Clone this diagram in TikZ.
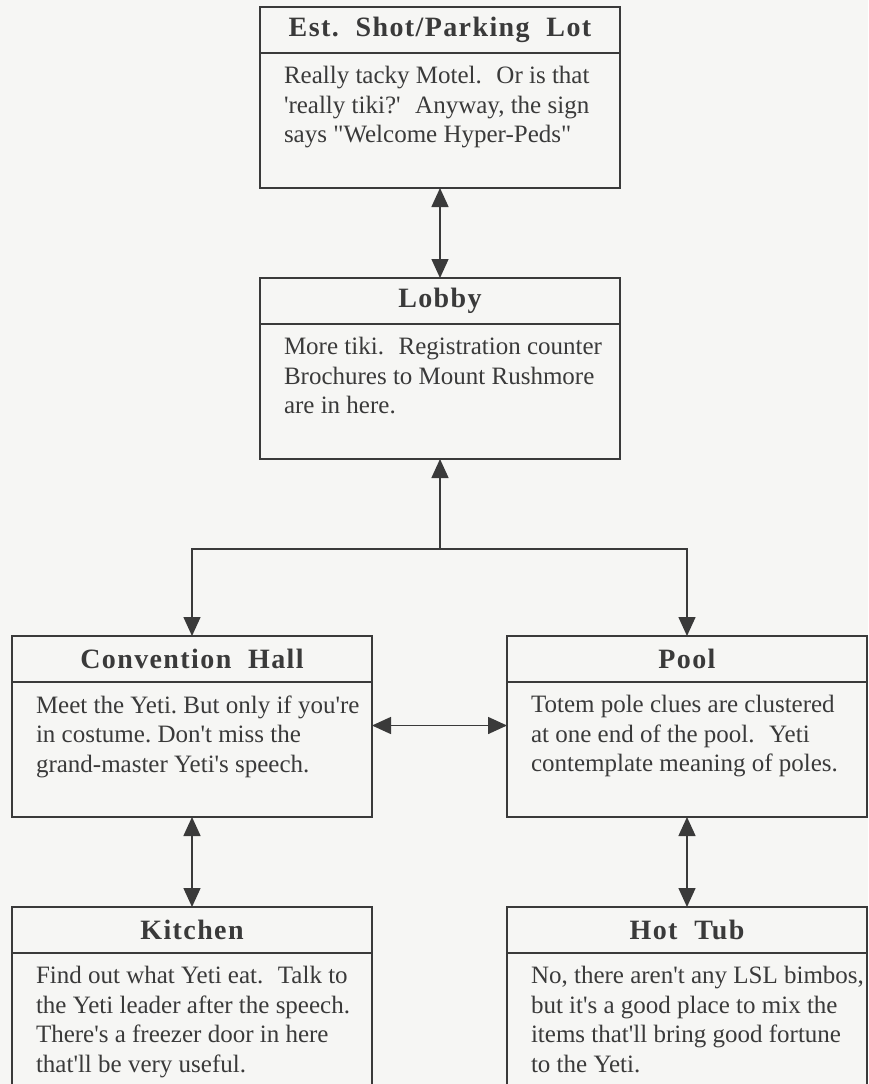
\documentclass[tikz,border=0pt]{standalone}
\usepackage{fontspec}
\setmainfont{Liberation Serif}[Ligatures=TeXOff]
\usetikzlibrary{arrows.meta, positioning}

\definecolor{paper}{RGB}{246,246,244}
\definecolor{ink}{RGB}{58,58,58}

\tikzstyle{roomtitle} = [rectangle, minimum width=360pt, minimum height=46pt, inner sep=0pt, outer sep=0pt, line width=2pt, draw=ink, text=ink, font=\fontsize{28}{32}\selectfont\bfseries\addfontfeature{LetterSpace=5}]
\tikzstyle{roombody} = [rectangle, minimum width=360pt, minimum height=135pt, inner xsep=24pt, inner ysep=0pt, outer sep=0pt, line width=2pt, draw=ink, text=ink, font=\fontsize{25}{29.5}\selectfont]
\tikzstyle{arrow} = [line width=1.5pt, draw=ink, -{Triangle[length=19pt, width=17pt]}]
\tikzstyle{dblarrow} = [line width=1.5pt, draw=ink, {Triangle[length=19pt, width=17pt]}-{Triangle[length=19pt, width=17pt]}]

% body text sits at the top of the box
\newcommand{\roomtext}[1]{\begin{minipage}[c][108pt][t]{312pt}\rightskip=-24pt plus 1fil\relax #1\end{minipage}}

\begin{document}
\begin{tikzpicture}[node distance=90pt]

    \useasboundingbox (0,0) rectangle (868pt,-1084pt);
    \fill [paper] (0,0) rectangle (868pt,-1084pt);
    \clip (0,0) rectangle (868pt,-1084pt);

    \node (est) [roomtitle] at (440pt,-30pt) {Est.~~Shot/Parking~~Lot};
    \node (estbody) [roombody, below=0pt of est] {\roomtext{Really tacky Motel.~ Or is that\\'really tiki?'~ Anyway, the sign\\says "Welcome Hyper-Peds"}};

    \node (lobby) [roomtitle, below=of estbody] {Lobby};
    \node (lobbybody) [roombody, below=0pt of lobby] {\roomtext{More tiki.~ Registration counter\\Brochures to Mount Rushmore\\are in here.}};

    \coordinate (hub) at ([yshift=-90pt]lobbybody.south);

    \node (hall) [roomtitle, below=177pt of lobbybody, xshift=-248pt] {Convention~~Hall};
    \node (hallbody) [roombody, below=0pt of hall] {\roomtext{Meet the Yeti.\ But only if you're\\in costume.\ Don't miss the\\grand-master Yeti's speech.}};

    \node (pool) [roomtitle, below=177pt of lobbybody, xshift=247pt] {Pool};
    \node (poolbody) [roombody, below=0pt of pool] {\roomtext{Totem pole clues are clustered\\at one end of the pool.~ Yeti\\contemplate meaning of poles.}};

    \node (kitchen) [roomtitle, below=of hallbody] {Kitchen};
    \node (kitchenbody) [roombody, below=0pt of kitchen] {\roomtext{Find out what Yeti eat.~ Talk to\\the Yeti leader after the speech.\\There's a freezer door in here\\that'll be very useful.}};

    \node (tub) [roomtitle, below=of poolbody] {Hot~~Tub};
    \node (tubbody) [roombody, below=0pt of tub] {\roomtext{No, there aren't any LSL bimbos,\\but it's a good place to mix the\\items that'll bring good fortune\\to the Yeti.}};

    \draw [dblarrow] (estbody) -- (lobby);
    \draw [arrow] (hub) -- (lobbybody);
    \draw [arrow] (hub) -| (hall);
    \draw [arrow] (hub) -| (pool);
    \draw [dblarrow] ([yshift=24pt]hallbody.east) -- ([yshift=24pt]poolbody.west);
    \draw [dblarrow] (hallbody) -- (kitchen);
    \draw [dblarrow] (poolbody) -- (tub);

\end{tikzpicture}
\end{document}
